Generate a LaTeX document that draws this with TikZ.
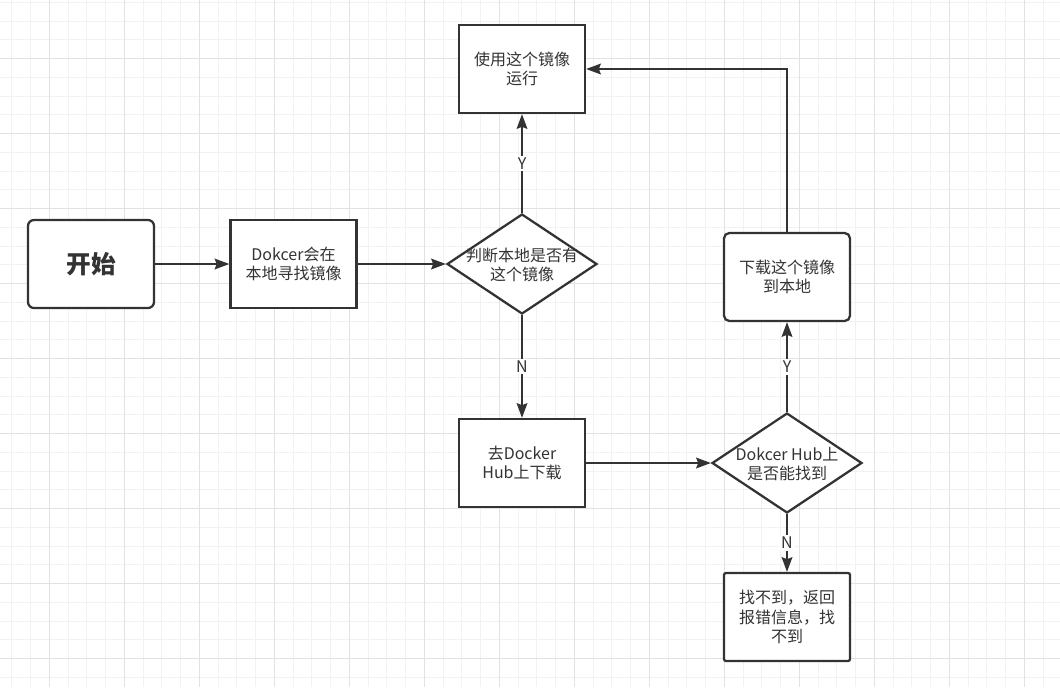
\documentclass[tikz,border=0pt]{standalone}
\usepackage{fontspec}
\setmainfont{Noto Sans CJK SC}
\usepackage{xcolor}
\usetikzlibrary{arrows.meta,shapes.geometric}

\definecolor{ink}{HTML}{333333}
\definecolor{gridminor}{HTML}{F2F2F2}
\definecolor{gridmajor}{HTML}{E2E2E2}

\tikzset{
  box/.style={draw=ink,line width=1.7pt,fill=white,text=ink,align=center,
    minimum width=94.5pt,minimum height=66pt,inner sep=2pt},
  decision/.style={draw=ink,line width=1.7pt,fill=white,diamond,aspect=1.5,
    minimum width=112.5pt,minimum height=75pt,inner sep=0pt},
  flow/.style={draw=ink,line width=1.5pt,-{Stealth[length=11pt,width=8pt,inset=1.5pt]}},
  yn/.style={midway,fill=white,text=ink,inner sep=1.5pt}
}

\begin{document}
\begin{tikzpicture}[x=0.75pt,y=-0.75pt,every node/.style={font=\fontsize{12}{14.5}\selectfont}]
  \useasboundingbox (0,0) rectangle (1060,687);
  % grid
  \foreach \x in {11.8,30.55,...,1060} \draw[gridminor,line width=0.75pt] (\x,0)--(\x,687);
  \foreach \y in {2.45,21.2,...,687} \draw[gridminor,line width=0.75pt] (0,\y)--(1060,\y);
  \foreach \x in {49.3,124.3,...,1060} \draw[gridmajor,line width=0.75pt] (\x,0)--(\x,687);
  \foreach \y in {58.7,133.7,...,687} \draw[gridmajor,line width=0.75pt] (0,\y)--(1060,\y);

  % nodes
  \node[box,rounded corners=4.5pt,font=\fontsize{18.5}{20}\selectfont\bfseries] (start) at (91,264) {开始};
  \node[box] (search) at (293.5,264) {Dokcer会在\\本地寻找镜像};
  \node[decision] (judge) at (522,264) {};
  \node[text=ink,align=center] (judgetext) at (522,265) {判断本地是否有\\这个镜像};
  \node[box] (run) at (522,69) {使用这个镜像\\运行};
  \node[box] (pull) at (522,463) {去Docker\\Hub上下载};
  \node[decision] (found) at (787,463) {};
  \node[text=ink,align=center] (foundtext) at (787,464) {Dokcer Hub上\\是否能找到};
  \node[box,rounded corners=4pt] (download) at (787,277) {下载这个镜像\\到本地};
  \node[box,rounded corners=1.5pt] (error) at (787,617) {找不到，返回\\报错信息，找\\不到};

  % connectors
  \draw[flow] (start) -- (search);
  \draw[flow] (search) -- (judge);
  \draw[flow] (judge) -- node[yn]{Y} (run);
  \draw[flow] (judge) -- node[yn]{N} (pull);
  \draw[flow] (pull) -- (found);
  \draw[flow] (found) -- node[yn]{Y} (download);
  \draw[flow] (found) -- node[yn]{N} (error);
  \draw[flow] (download.north) |- (run.east);
\end{tikzpicture}
\end{document}
